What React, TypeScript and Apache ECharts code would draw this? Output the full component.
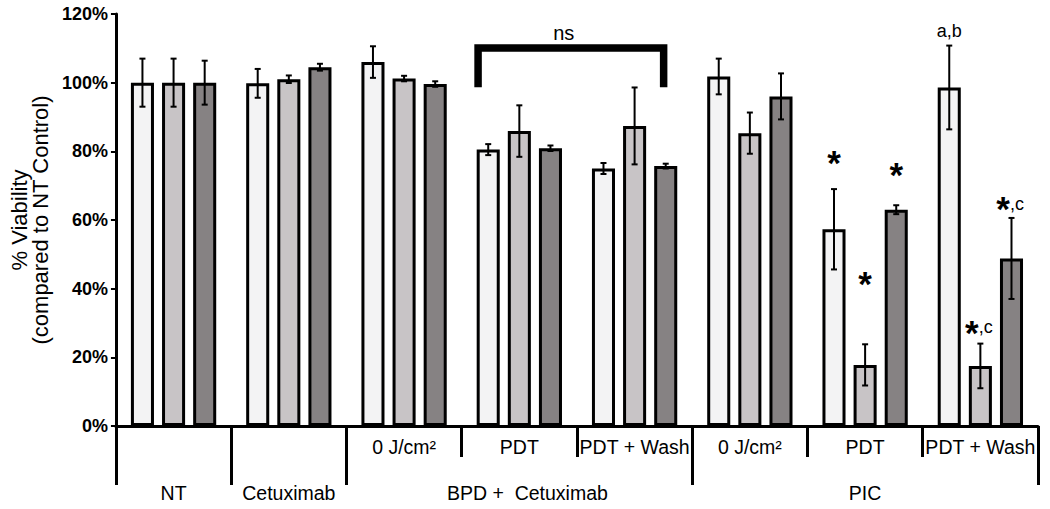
import React, { useEffect, useRef } from 'react';
import * as echarts from 'echarts';

// ---------- data ----------
const innerLabels = ['', '', '0 J/cm²', 'PDT', 'PDT + Wash', '0 J/cm²', 'PDT', 'PDT + Wash'];
const outerLabels = ['NT', 'Cetuximab', 'BPD +  Cetuximab', 'PIC'];
const outerLabelPos = [0.5, 1.5, 3.57, 6.5];
const outerDividers = [0, 1, 2, 5, 8];

const yMin = 0;
const yMax = 120;
const yStep = 20;

const series1 = [100, 99.8, 106, 80.5, 75, 101.8, 57.3, 98.6];
const series2 = [100, 101, 101.2, 85.9, 87.4, 85.3, 17.8, 17.5];
const series3 = [100, 104.5, 99.6, 80.9, 75.7, 96, 63, 48.8];
const err1 = [7, 4.2, 4.6, 1.6, 1.6, 5.2, 11.7, 12.2];
const err2 = [7, 1.1, 0.8, 7.5, 11.2, 6, 6, 6.5];
const err3 = [6.4, 1, 0.8, 0.8, 0.7, 6.7, 1.3, 11.8];

const annotCat = [6, 6, 6, 7, 7, 7];
const annotBar = [0, 1, 2, 0, 1, 2];
const annotY = [78.1, 43.1, 74.6, 115, 28.8, 64.7];
const annotStar = [true, true, true, false, true, true];
const annotSuffix = ['', '', '', 'a,b', ',c', ',c'];

// bracket: [left category, right category, top value, leg value]
const bracket = [3, 4, 110.1, 98.7];
const bracketOffsets = [-0.358, 0.252];
const nsLabel = 'ns';
const nsPos = [3.385, 114.6];

const colors = ['#f3f3f4', '#c8c4c6', '#868283'];
const FONT = '"Liberation Sans", Arial, Helvetica, sans-serif';

const BAR_FRAC = 0.2;
const GAP_FRAC = 0.35;

function barPoint(api: any, cat: number, v: number, barIdx: number) {
  const c = api.coord([cat, v]);
  const bw = api.size([1, 0])[0];
  return [c[0] + (barIdx - 1) * bw * BAR_FRAC * (1 + GAP_FRAC), c[1]];
}

export default function App() {
  const ref = useRef<HTMLDivElement>(null);

  useEffect(() => {
    if (!ref.current) return;
    const chart = echarts.init(ref.current, undefined, { renderer: 'svg' });

    const values = [series1, series2, series3];
    const errs = [err1, err2, err3];
    const errData: number[][] = [];
    values.forEach((vals, s) => {
      vals.forEach((v, i) => errData.push([i, v, errs[s][i], s]));
    });
    const annotData = annotCat.map((c, i) => [c, annotY[i], annotBar[i]]);

    const black = '#000';

    const option: any = {
      animation: false,
      backgroundColor: '#fff',
      grid: { left: 107, right: 12, top: 14, bottom: 83, containLabel: false },
      xAxis: [
        {
          type: 'category',
          data: innerLabels,
          position: 'bottom',
          boundaryGap: true,
          axisLine: { show: true, lineStyle: { color: black, width: 3 } },
          axisTick: { show: true, interval: 0, length: 31, lineStyle: { color: black, width: 3 } },
          axisLabel: { interval: 0, margin: 11, color: black, fontSize: 19.5, fontFamily: FONT },
          splitLine: { show: false },
        },
        {
          type: 'value',
          min: 0,
          max: 8,
          position: 'bottom',
          axisLine: { show: false },
          axisTick: { show: true, customValues: outerDividers, length: 59, lineStyle: { color: black, width: 3 } },
          axisLabel: {
            show: true,
            customValues: outerLabelPos,
            margin: 57,
            color: black,
            fontSize: 19.5,
            fontFamily: FONT,
            formatter: (v: number) => {
              const i = outerLabelPos.findIndex((p) => Math.abs(p - v) < 1e-6);
              return i >= 0 ? outerLabels[i] : '';
            },
          },
          splitLine: { show: false },
        },
      ],
      yAxis: {
        type: 'value',
        min: yMin,
        max: yMax,
        interval: yStep,
        name: '% Viability\n(compared to NT Control)',
        nameLocation: 'middle',
        nameGap: 60,
        nameTextStyle: { color: black, fontSize: 22, lineHeight: 21, fontFamily: FONT },
        axisLine: { show: true, lineStyle: { color: black, width: 3 } },
        axisTick: { show: true, length: 5, lineStyle: { color: black, width: 2 } },
        axisLabel: { formatter: '{value}%', color: black, fontSize: 18, fontWeight: 'bold', fontFamily: FONT, margin: 8 },
        splitLine: { show: false },
      },
      series: [
        ...values.map((vals, s) => ({
          type: 'bar',
          name: 'Series ' + (s + 1),
          data: vals,
          barWidth: BAR_FRAC * 100 + '%',
          barGap: GAP_FRAC * 100 + '%',
          itemStyle: { color: colors[s], borderColor: black, borderWidth: 3 },
          z: 2,
        })),
        {
          type: 'custom',
          name: 'errors',
          data: errData,
          encode: { x: 0, y: 1 },
          clip: false,
          z: 3,
          renderItem: (params: any, api: any) => {
            const cat = api.value(0);
            const v = api.value(1);
            const e = api.value(2);
            const s = api.value(3);
            const top = barPoint(api, cat, v + e, s);
            const bot = barPoint(api, cat, v - e, s);
            const x = top[0];
            const st = { stroke: black, lineWidth: 2 };
            return {
              type: 'group',
              children: [
                { type: 'line', shape: { x1: x, y1: top[1], x2: x, y2: bot[1] }, style: st },
                { type: 'line', shape: { x1: x - 3, y1: top[1], x2: x + 3, y2: top[1] }, style: st },
                { type: 'line', shape: { x1: x - 3, y1: bot[1], x2: x + 3, y2: bot[1] }, style: st },
              ],
            };
          },
        },
        {
          type: 'custom',
          name: 'annotations',
          data: annotData,
          encode: { x: 0, y: 1 },
          clip: false,
          z: 4,
          renderItem: (params: any, api: any) => {
            const i = params.dataIndex;
            const p = barPoint(api, api.value(0), api.value(1), api.value(2));
            const children: any[] = [];
            const suffix = annotSuffix[i];
            if (annotStar[i]) {
              const sx = suffix ? p[0] - 8.5 : p[0];
              children.push({
                type: 'text',
                x: sx,
                y: p[1] + 5,
                style: { text: '*', fontSize: 35, fontWeight: 'bold', fontFamily: FONT, fill: black, align: 'center', verticalAlign: 'middle' },
              });
              if (suffix) {
                children.push({
                  type: 'text',
                  x: p[0] - 1.5,
                  y: p[1],
                  style: { text: suffix, fontSize: 18, fontFamily: FONT, fill: black, align: 'left', verticalAlign: 'middle' },
                });
              }
            } else {
              children.push({
                type: 'text',
                x: p[0],
                y: p[1],
                style: { text: suffix, fontSize: 18, fontFamily: FONT, fill: black, align: 'center', verticalAlign: 'middle' },
              });
            }
            return { type: 'group', children };
          },
        },
        {
          type: 'custom',
          name: 'bracket',
          data: [bracket],
          encode: { x: 0, y: 2 },
          clip: false,
          z: 4,
          renderItem: (params: any, api: any) => {
            const bw = api.size([1, 0])[0];
            const lTop = api.coord([api.value(0), api.value(2)]);
            const rTop = api.coord([api.value(1), api.value(2)]);
            const leg = api.coord([api.value(0), api.value(3)]);
            const xl = lTop[0] + bracketOffsets[0] * bw;
            const xr = rTop[0] + bracketOffsets[1] * bw;
            const ns = api.coord([Math.floor(nsPos[0]), nsPos[1]]);
            const nsX = ns[0] + (nsPos[0] - Math.floor(nsPos[0])) * bw;
            return {
              type: 'group',
              children: [
                {
                  type: 'polyline',
                  shape: { points: [[xl, leg[1]], [xl, lTop[1]], [xr, lTop[1]], [xr, leg[1]]] },
                  style: { stroke: black, lineWidth: 7.5, fill: 'none', lineJoin: 'miter', lineCap: 'butt' },
                },
                {
                  type: 'text',
                  x: nsX,
                  y: ns[1],
                  style: { text: nsLabel, fontSize: 20, fontFamily: FONT, fill: black, align: 'center', verticalAlign: 'middle' },
                },
              ],
            };
          },
        },
      ],
    };

    chart.setOption(option);
    return () => chart.dispose();
  }, []);

  return (
    <div
      ref={ref}
      style={{ position: 'absolute', left: 0, top: 0, width: 1050, height: 509, background: '#fff' }}
    />
  );
}
